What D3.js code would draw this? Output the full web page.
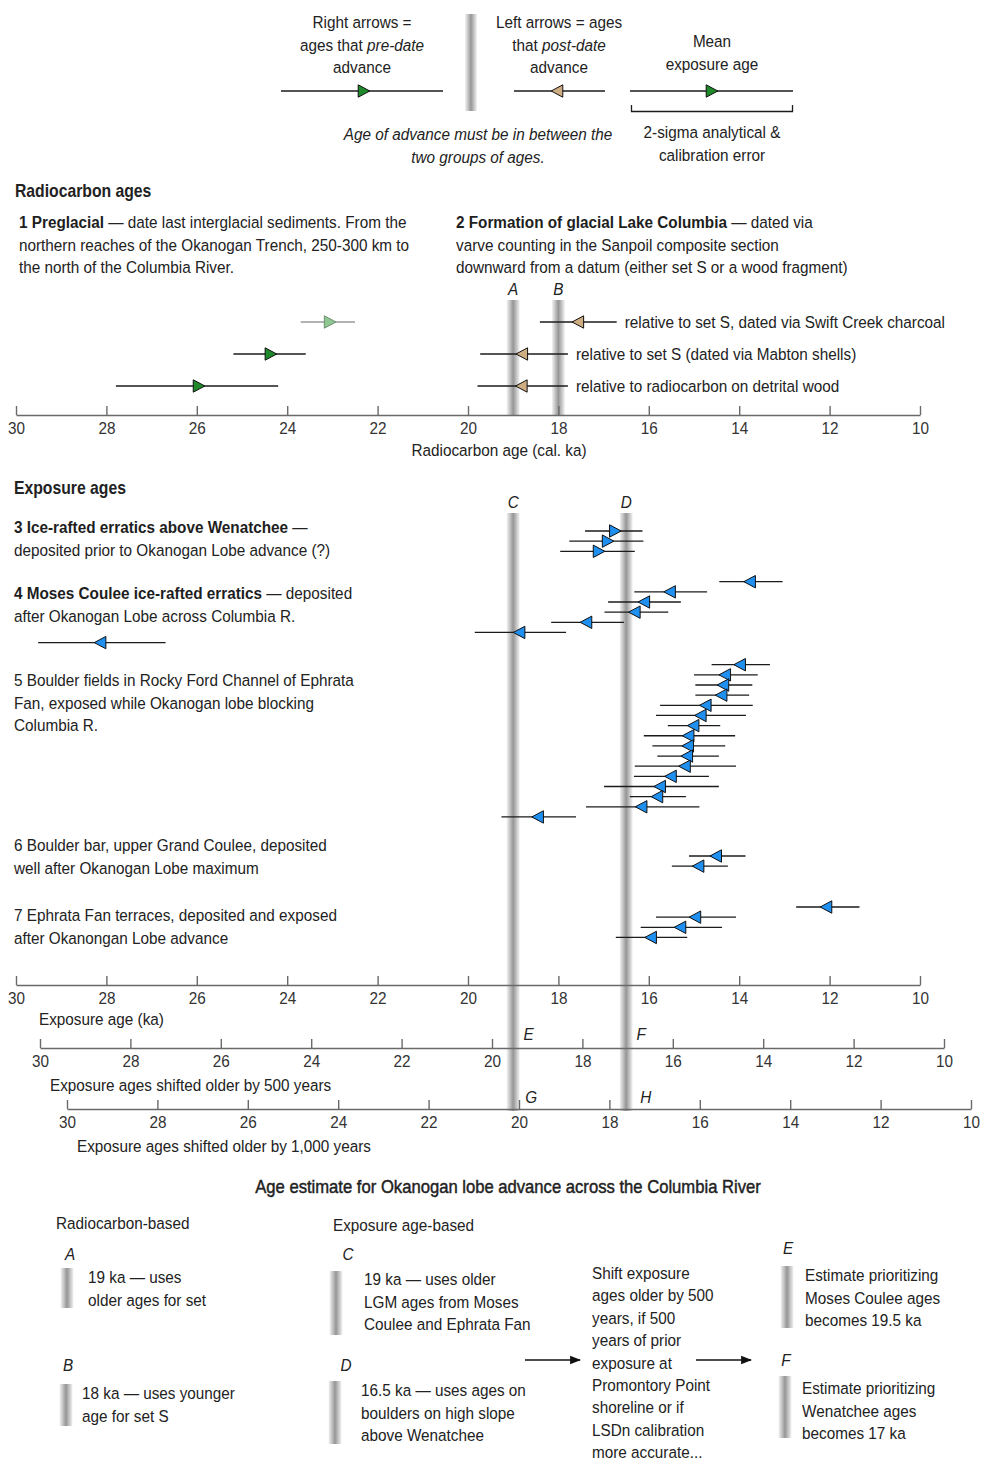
<!DOCTYPE html>
<html>
<head>
<meta charset="utf-8">
<script src="https://cdn.jsdelivr.net/npm/d3@7"></script>
<style>
  body { margin: 0; background: #fff; }
  svg text { font-family: "Liberation Sans", Arimo, Arial, sans-serif; font-size: 17px; fill: #222; }
  svg text.semi { stroke: #222; stroke-width: 0.45px; }
  svg text .bold { font-weight: bold; fill: #1e1e1e; }
  svg text.head { font-weight: bold; font-size: 17.5px; }
</style>
</head>
<body>
<svg id="chart" width="982" height="1460"></svg>
<script>
// ---- Tick values (ka) ----
const ageTicks = [30, 28, 26, 24, 22, 20, 18, 16, 14, 12, 10];

// ---- 1 Preglacial: radiocarbon ages that pre-date the advance (right arrows) ----
const preglacialAges = [
  { age: 23.05, young: 22.50, old: 23.70, faded: true },
  { age: 24.36, young: 23.59, old: 25.19 },
  { age: 25.95, young: 24.20, old: 27.79 }
];

// ---- 2 Glacial Lake Columbia varve ages that post-date the advance (left arrows) ----
const lakeColumbiaAges = [
  { age: 17.57, young: 16.71, old: 18.41, note: "relative to set S, dated via Swift Creek charcoal" },
  { age: 18.81, young: 17.79, old: 19.73, note: "relative to set S (dated via Mabton shells)" },
  { age: 18.82, young: 17.79, old: 19.79, note: "relative to radiocarbon on detrital wood" }
];

// ---- Exposure ages (ka) ----
const wenatcheeErratics = [
  { age: 16.74, young: 16.14, old: 17.41 },
  { age: 16.90, young: 16.12, old: 17.76 },
  { age: 17.10, young: 16.31, old: 17.96 }
];
const mosesCouleeErratics = [
  { age: 13.77, young: 13.04, old: 14.44 },
  { age: 15.54, young: 14.71, old: 16.32 },
  { age: 16.11, young: 15.29, old: 16.90 },
  { age: 16.32, young: 15.57, old: 16.98 },
  { age: 17.39, young: 16.55, old: 18.16 },
  { age: 18.87, young: 17.83, old: 19.85 },
  { age: 28.14, young: 26.69, old: 29.51 }
];
const rockyFordBoulders = [
  { age: 13.99, young: 13.32, old: 14.61 },
  { age: 14.32, young: 13.59, old: 15.00 },
  { age: 14.36, young: 13.71, old: 14.97 },
  { age: 14.40, young: 13.78, old: 14.97 },
  { age: 14.75, young: 13.70, old: 15.75 },
  { age: 14.86, young: 13.85, old: 15.84 },
  { age: 15.02, young: 14.42, old: 15.58 },
  { age: 15.13, young: 14.09, old: 16.11 },
  { age: 15.14, young: 14.31, old: 15.92 },
  { age: 15.16, young: 14.45, old: 15.81 },
  { age: 15.21, young: 14.07, old: 16.31 },
  { age: 15.52, young: 14.67, old: 16.33 },
  { age: 15.76, young: 14.45, old: 16.99 },
  { age: 15.82, young: 15.18, old: 16.42 },
  { age: 16.17, young: 14.88, old: 17.39 },
  { age: 18.46, young: 17.61, old: 19.26 }
];
const grandCouleeBar = [
  { age: 14.52, young: 13.86, old: 15.11 },
  { age: 14.91, young: 14.25, old: 15.49 }
];
const ephrataTerraces = [
  { age: 12.08, young: 11.34, old: 12.74 },
  { age: 14.98, young: 14.07, old: 15.84 },
  { age: 15.31, young: 14.38, old: 16.18 },
  { age: 15.96, young: 15.15, old: 16.73 }
];

// ---- Age estimates for the advance (ka) ----
const radiocarbonEstimates = [ { key: "A", age: 19 }, { key: "B", age: 18 } ];
const exposureEstimates = [ { key: "C", age: 19 }, { key: "D", age: 16.5 } ];
const shiftedEstimates = [ { key: "E", age: 19.5 }, { key: "F", age: 17 } ];

// ---- Colours ----
const GREEN = "#1f8a2b", GREEN_FADED = "#8fc793", TAN = "#cfad82", BLUE = "#1f8ff0";

// Condensed lettering: horizontal squeeze applied to every label
const SX = 0.9;

const svg = d3.select("#chart");
const defs = svg.append("defs");
const band = defs.append("linearGradient").attr("id", "band")
  .attr("x1", 0).attr("x2", 1).attr("y1", 0).attr("y2", 0);
[[0, "#f3f3f3"], [0.5, "#959595"], [1, "#f3f3f3"]]
  .forEach(([o, c]) => band.append("stop").attr("offset", o).attr("stop-color", c));
defs.append("marker").attr("id", "head")
  .attr("viewBox", "0 0 10 10").attr("refX", 9).attr("refY", 5)
  .attr("markerWidth", 11).attr("markerHeight", 11).attr("markerUnits", "userSpaceOnUse")
  .attr("orient", "auto")
  .append("path").attr("d", "M0,1.2L10,5L0,8.8Z").attr("fill", "#111");

// ---- Scales ----
const x = d3.scaleLinear().domain([30, 10]).range([16, 920]);
const x500 = d3.scaleLinear().domain([30, 10]).range([40, 944]);
const x1000 = d3.scaleLinear().domain([30, 10]).range([67, 971]);

// ---- helpers ----
const LH = 22.7;
function label(px, py, anchor = "start", cls = null) {
  const t = svg.append("text")
    .attr("transform", `translate(${px},${py}) scale(${SX},1)`)
    .attr("text-anchor", anchor);
  if (cls) t.attr("class", cls);
  return t;
}
function textBlock(px, py, lines, anchor = "start", cls = null, lh = LH) {
  const t = label(px, py, anchor, cls);
  lines.forEach((line, i) => {
    const segs = typeof line === "string" ? [[line]] : line;
    segs.forEach(([s, st], j) => {
      const ts = t.append("tspan").text(s);
      if (j === 0) ts.attr("x", 0).attr("dy", i === 0 ? 0 : lh);
      if (st === "i") ts.attr("font-style", "italic");
      if (st === "b") ts.attr("class", "bold");
    });
  });
  return t;
}

const RIGHT = "M-5.8,-6.2L5.8,0L-5.8,6.2Z";
const LEFT = "M5.8,-6.2L-5.8,0L5.8,6.2Z";

function ageMarks(g, data, yOf, scale, shape, fill) {
  const rows = g.selectAll(null).data(data).join("g");
  rows.append("line")
    .attr("x1", d => scale(d.old)).attr("x2", d => scale(d.young))
    .attr("y1", (d, i) => yOf(i)).attr("y2", (d, i) => yOf(i))
    .attr("stroke", d => (d.faded ? "#9a9a9a" : "#1b1b1b"))
    .attr("stroke-width", 1.3);
  rows.append("path")
    .attr("d", shape)
    .attr("transform", (d, i) => `translate(${scale(d.age)},${yOf(i)})`)
    .attr("fill", d => (d.faded ? GREEN_FADED : fill))
    .attr("stroke", d => (d.faded ? "#6e8f70" : "#111"))
    .attr("stroke-width", 1);
  return rows;
}

function bandRect(g, cx, y0, y1, w = 13) {
  g.append("rect").attr("x", cx - w / 2).attr("y", y0).attr("width", w).attr("height", y1 - y0)
    .attr("fill", "url(#band)");
}

function drawAxis(scale, y) {
  const g = svg.append("g").attr("transform", `translate(0,${y})`)
    .call(d3.axisBottom(scale).tickValues(ageTicks).tickFormat(d3.format("d"))
      .tickSizeInner(-9).tickSizeOuter(0).tickPadding(7));
  g.attr("font-family", null).attr("font-size", null);
  g.select(".domain").attr("stroke", "#6a6a6a").attr("stroke-width", 1.7);
  g.selectAll(".tick line").attr("stroke", "#6a6a6a").attr("stroke-width", 1.4);
  g.selectAll(".tick text").style("fill", "#333").attr("transform", `scale(${SX},1)`);
  return g;
}

// =================== Top legend ===================
textBlock(362, 28, ["Right arrows =", [["ages that "], ["pre-date", "i"]], "advance"], "middle");
textBlock(559, 28, ["Left arrows = ages", [["that "], ["post-date", "i"]], "advance"], "middle");
textBlock(712, 47, ["Mean", "exposure age"], "middle");
textBlock(478, 140, [[["Age of advance must be in between the", "i"]], [["two groups of ages.", "i"]]], "middle");
textBlock(712, 138, ["2-sigma analytical &", "calibration error"], "middle");

const legend = svg.append("g");
bandRect(legend, 471, 14, 111, 12);
[[281, 443, RIGHT, 364, GREEN], [514, 605, LEFT, 557, TAN], [630, 793, RIGHT, 712, GREEN]]
  .forEach(([a, b, shape, cx, fill]) => {
    legend.append("line").attr("x1", a).attr("x2", b).attr("y1", 91).attr("y2", 91)
      .attr("stroke", "#1b1b1b").attr("stroke-width", 1.3);
    legend.append("path").attr("d", shape).attr("transform", `translate(${cx},91)`)
      .attr("fill", fill).attr("stroke", "#111");
  });
legend.append("path").attr("d", "M631.5,105V111.5H792.5V105")
  .attr("fill", "none").attr("stroke", "#1b1b1b").attr("stroke-width", 1.3);

// =================== Radiocarbon ages ===================
label(15, 197, "start", "head").text("Radiocarbon ages");
textBlock(19, 228, [[["1 Preglacial", "b"], [" \u2014 date last interglacial sediments. From the"]],
  "northern reaches of the Okanogan Trench, 250-300 km to",
  "the north of the Columbia River."]);
textBlock(456, 228, [[["2 Formation of glacial Lake Columbia", "b"], [" \u2014 dated via"]],
  "varve counting in the Sanpoil composite section",
  "downward from a datum (either set S or a wood fragment)"]);

const radioRowY = i => 322 + i * 32;
const radioG = svg.append("g");
radiocarbonEstimates.forEach(d => {
  bandRect(radioG, x(d.age), 300, 415);
  label(x(d.age), 295, "middle").attr("font-style", "italic").text(d.key);
});
ageMarks(radioG, preglacialAges, radioRowY, x, RIGHT, GREEN);
ageMarks(radioG, lakeColumbiaAges, radioRowY, x, LEFT, TAN);
lakeColumbiaAges.forEach((d, i) => {
  label(x(d.young) + 8, radioRowY(i) + 6).text(d.note);
});
drawAxis(x, 415);
label(499, 456, "middle").text("Radiocarbon age (cal. ka)");

// =================== Exposure ages ===================
label(14, 494, "start", "head").text("Exposure ages");
textBlock(14, 533, [[["3 Ice-rafted erratics above Wenatchee", "b"], [" \u2014"]],
  "deposited prior to Okanogan Lobe advance (?)"]);
textBlock(14, 599, [[["4 Moses Coulee ice-rafted erratics", "b"], [" \u2014 deposited"]],
  "after Okanogan Lobe across Columbia R."]);
textBlock(14, 686, [[["5"], [" Boulder fields in Rocky Ford Channel of Ephrata"]],
  "Fan, exposed while Okanogan lobe blocking", "Columbia R."]);
textBlock(14, 851, [[["6"], [" Boulder bar, upper Grand Coulee, deposited"]],
  "well after Okanogan Lobe maximum"]);
textBlock(14, 921, [[["7"], [" Ephrata Fan terraces, deposited and exposed"]],
  "after Okanongan Lobe advance"]);

const expG = svg.append("g");
exposureEstimates.forEach(d => {
  bandRect(expG, x(d.age), 513, 1111);
  label(x(d.age), 508, "middle").attr("font-style", "italic").text(d.key);
});

const rowStep = 10.15;
const groups = [
  [wenatcheeErratics, 531, RIGHT],
  [mosesCouleeErratics, 581.7, LEFT],
  [rockyFordBoulders, 664.7, LEFT],
  [grandCouleeBar, 856, LEFT],
  [ephrataTerraces, 907, LEFT]
];
groups.forEach(([data, y0, shape]) => {
  ageMarks(expG, data, i => y0 + i * rowStep, x, shape, BLUE);
});

drawAxis(x, 985);
label(39, 1025).text("Exposure age (ka)");

drawAxis(x500, 1048);
label(50, 1091).text("Exposure ages shifted older by 500 years");
shiftedEstimates.forEach(d => {
  label(x500(d.age) + 9, 1040).attr("font-style", "italic").text(d.key);
});

drawAxis(x1000, 1109);
label(77, 1152).text("Exposure ages shifted older by 1,000 years");
[["G", 12], ["H", 14]].forEach(([k, off], i) => {
  label(x(exposureEstimates[i].age) + off, 1103).attr("font-style", "italic").text(k);
});

// =================== Summary of estimates ===================
label(508, 1193, "middle", "semi").style("font-size", "18.5px")
  .text("Age estimate for Okanogan lobe advance across the Columbia River");

const summary = svg.append("g");
textBlock(56, 1229, ["Radiocarbon-based"]);
textBlock(333, 1231, ["Exposure age-based"]);

const keyed = [
  { key: "A", kx: 70, ky: 1260, bx: 67, b0: 1268, b1: 1308, tx: 88, ty: 1283,
    lines: ["19 ka \u2014 uses", "older ages for set"] },
  { key: "B", kx: 68, ky: 1371, bx: 66, b0: 1384, b1: 1426, tx: 82, ty: 1399,
    lines: ["18 ka \u2014 uses younger", "age for set S"] },
  { key: "C", kx: 348, ky: 1260, bx: 336, b0: 1271, b1: 1335, tx: 364, ty: 1285,
    lines: ["19 ka \u2014 uses older", "LGM ages from Moses", "Coulee and Ephrata Fan"] },
  { key: "D", kx: 346, ky: 1371, bx: 335, b0: 1381, b1: 1444, tx: 361, ty: 1396,
    lines: ["16.5 ka \u2014 uses ages on", "boulders on high slope", "above Wenatchee"] },
  { key: "E", kx: 788, ky: 1254, bx: 787, b0: 1266, b1: 1328, tx: 805, ty: 1281,
    lines: ["Estimate prioritizing", "Moses Coulee ages", "becomes 19.5 ka"] },
  { key: "F", kx: 786, ky: 1366, bx: 785, b0: 1376, b1: 1438, tx: 802, ty: 1394,
    lines: ["Estimate prioritizing", "Wenatchee ages", "becomes 17 ka"] }
];
keyed.forEach(k => {
  label(k.kx, k.ky, "middle").attr("font-style", "italic").text(k.key);
  bandRect(summary, k.bx, k.b0, k.b1, 13);
  textBlock(k.tx, k.ty, k.lines);
});

textBlock(592, 1279, ["Shift exposure", "ages older by 500", "years, if 500", "years of prior",
  "exposure at", "Promontory Point", "shoreline or if", "LSDn calibration", "more accurate..."],
  "start", null, 22.4);

[[525, 580], [696, 751]].forEach(([a, b]) => {
  summary.append("line").attr("x1", a).attr("x2", b).attr("y1", 1360).attr("y2", 1360)
    .attr("stroke", "#111").attr("stroke-width", 1.4).attr("marker-end", "url(#head)");
});
</script>
</body>
</html>
